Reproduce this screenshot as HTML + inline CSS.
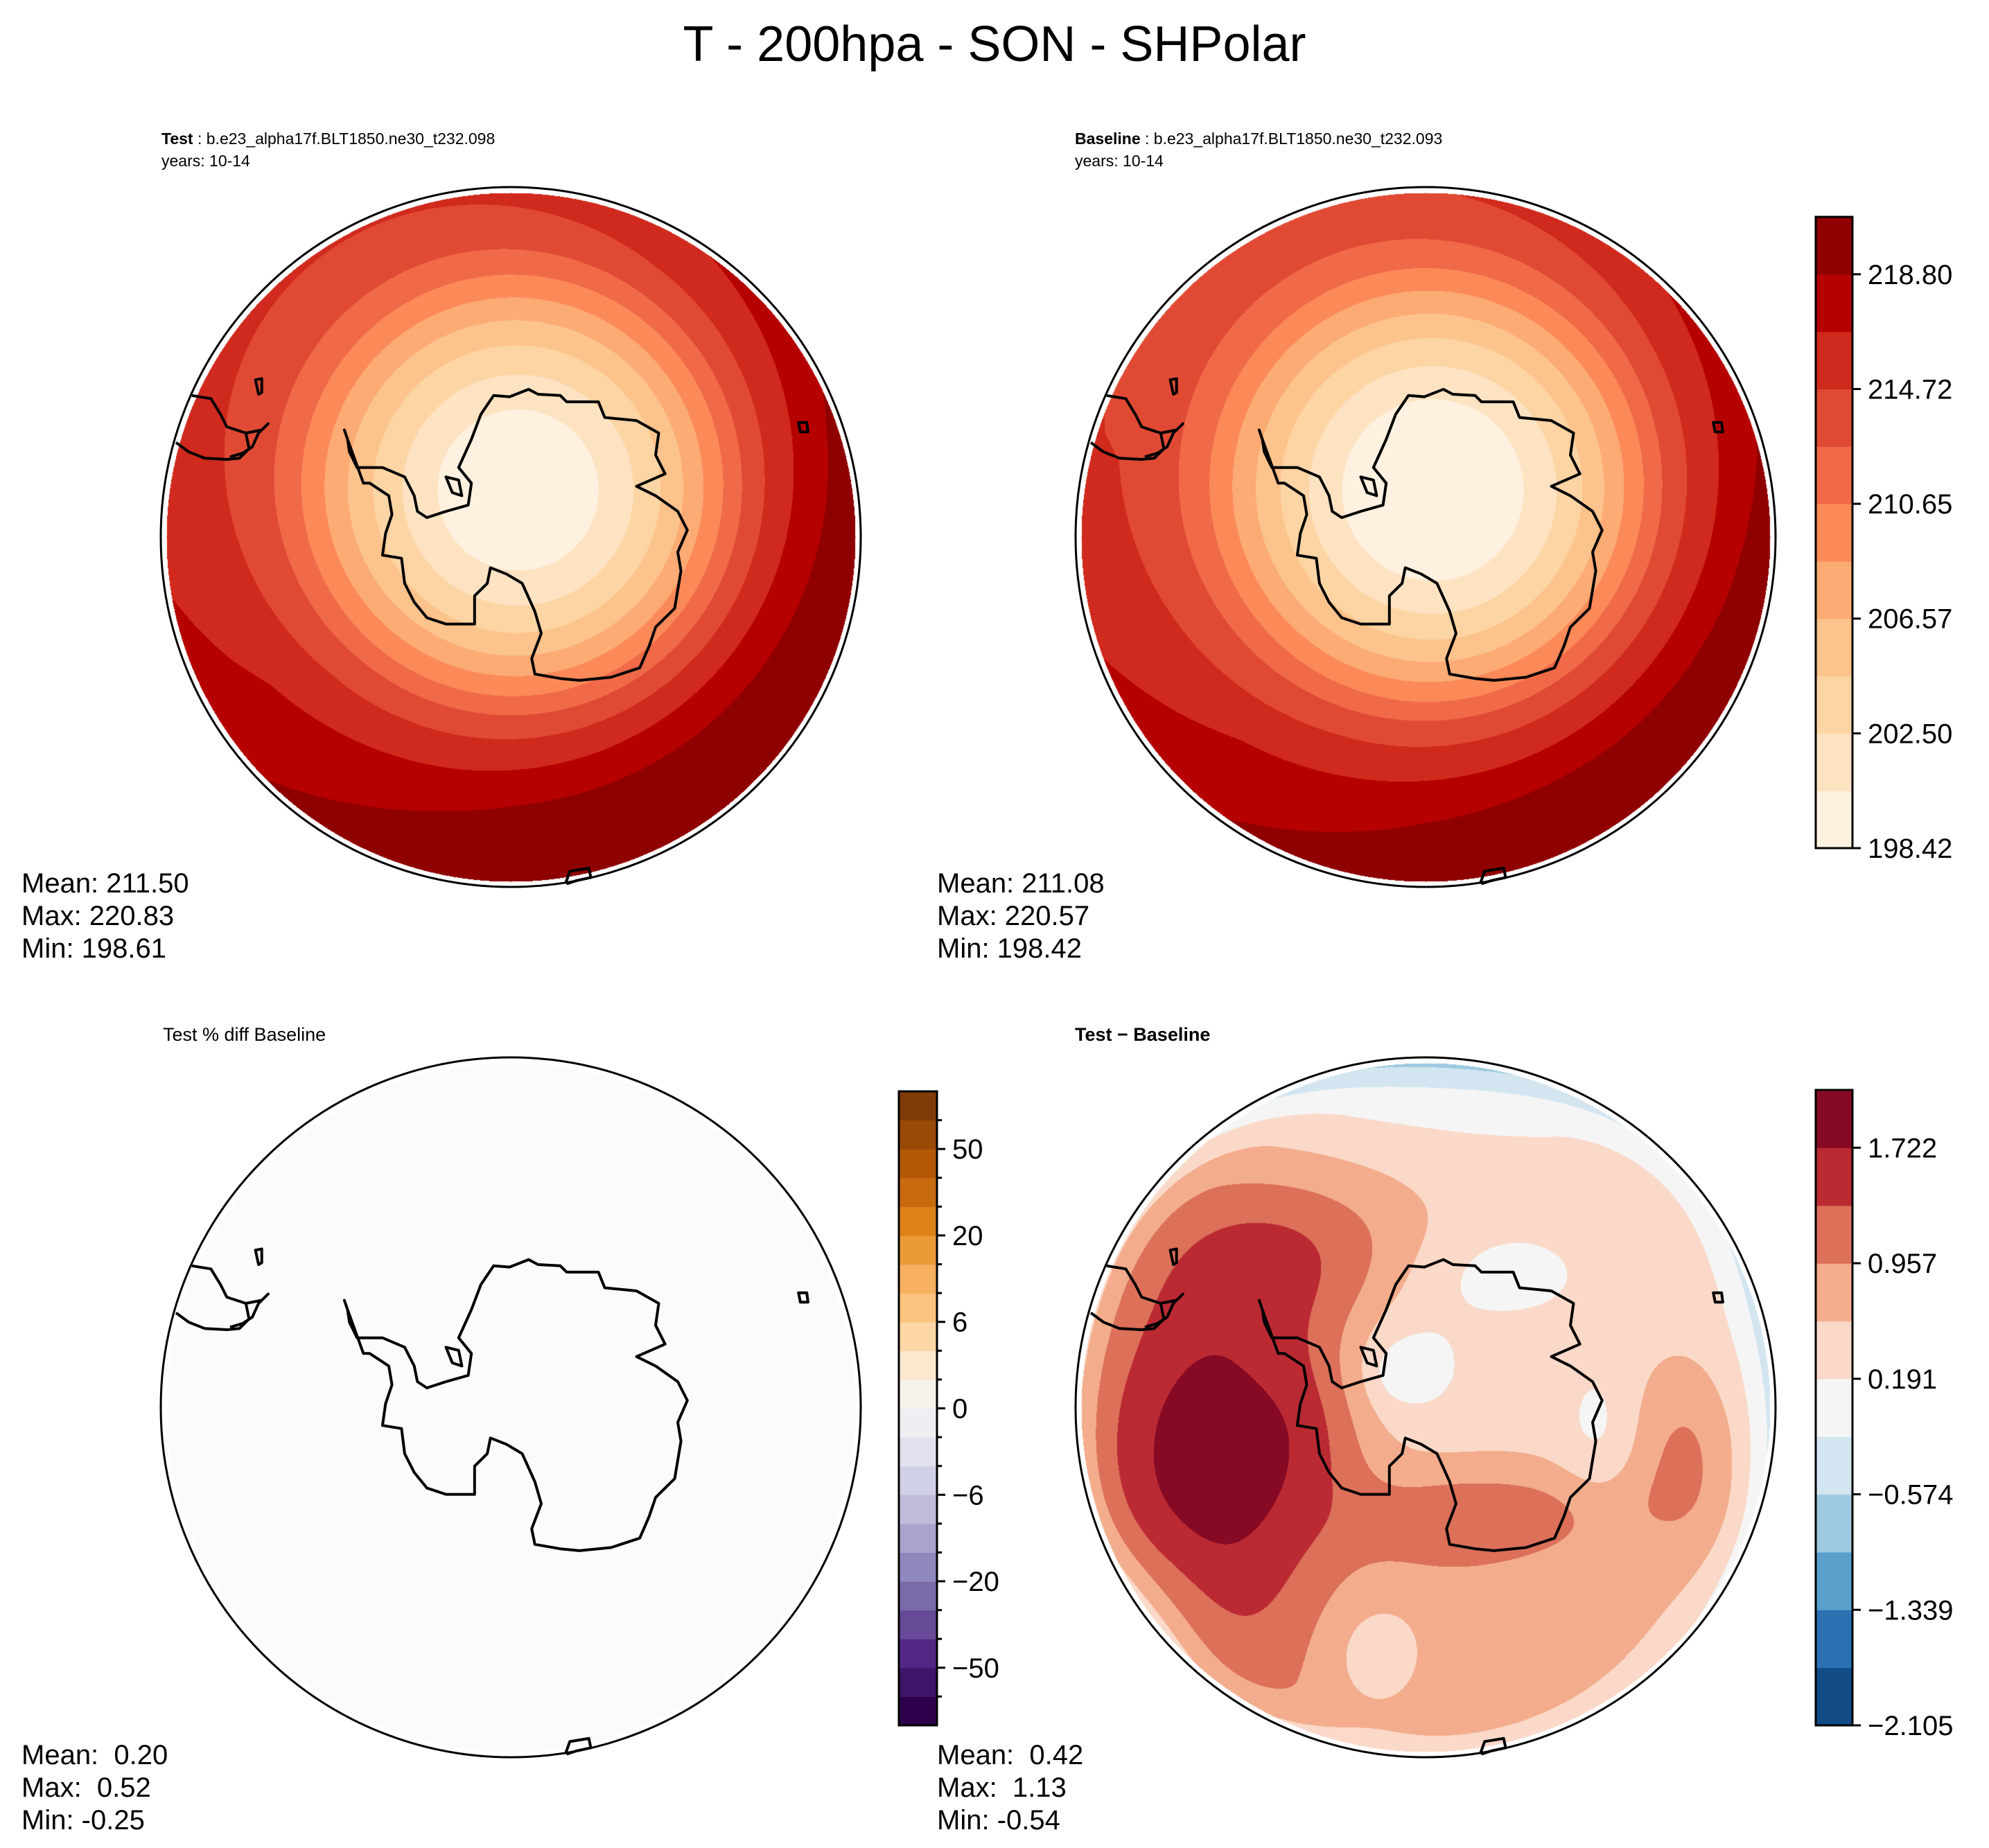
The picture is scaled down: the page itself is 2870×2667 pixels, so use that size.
<!DOCTYPE html>
<html><head><meta charset="utf-8">
<style>
html,body{margin:0;padding:0;background:#fff;}
#root{position:relative;width:2870px;height:2667px;overflow:hidden;background:#fff;font-family:"Liberation Sans","DejaVu Sans",sans-serif;}
canvas{position:absolute;}
svg{position:absolute;left:0;top:0;}
</style></head>
<body>
<div id="root">
<canvas id="c1" width="1010" height="1010" style="left:232px;top:270px"></canvas>
<canvas id="c2" width="1010" height="1010" style="left:1552px;top:270px"></canvas>
<canvas id="c3" width="1010" height="1010" style="left:232px;top:1526px"></canvas>
<canvas id="c4" width="1010" height="1010" style="left:1552px;top:1526px"></canvas>
<svg id="ov" width="2870" height="2667" xmlns="http://www.w3.org/2000/svg" font-family="Liberation Sans, DejaVu Sans, sans-serif">
<text x="1435" y="88" font-size="72" text-anchor="middle">T - 200hpa - SON - SHPolar</text>
<text x="233" y="208" font-size="23"><tspan font-weight="bold">Test</tspan> : b.e23_alpha17f.BLT1850.ne30_t232.098</text>
<text x="233" y="240" font-size="23">years: 10-14</text>
<text x="1551" y="208" font-size="23"><tspan font-weight="bold">Baseline</tspan> : b.e23_alpha17f.BLT1850.ne30_t232.093</text>
<text x="1551" y="240" font-size="23">years: 10-14</text>
<text x="235" y="1502" font-size="27">Test % diff Baseline</text>
<text x="1551" y="1502" font-size="27" font-weight="bold">Test − Baseline</text>
<g font-size="40">
<text x="31" y="1288" xml:space="preserve">Mean: 211.50</text><text x="31" y="1335" xml:space="preserve">Max: 220.83</text><text x="31" y="1382" xml:space="preserve">Min: 198.61</text></g>
<g font-size="40">
<text x="1352" y="1288" xml:space="preserve">Mean: 211.08</text><text x="1352" y="1335" xml:space="preserve">Max: 220.57</text><text x="1352" y="1382" xml:space="preserve">Min: 198.42</text></g>
<g font-size="40">
<text x="31" y="2546" xml:space="preserve">Mean:  0.20</text><text x="31" y="2593" xml:space="preserve">Max:  0.52</text><text x="31" y="2640" xml:space="preserve">Min: -0.25</text></g>
<g font-size="40">
<text x="1352" y="2546" xml:space="preserve">Mean:  0.42</text><text x="1352" y="2593" xml:space="preserve">Max:  1.13</text><text x="1352" y="2640" xml:space="preserve">Min: -0.54</text></g>
<g id="overlay"></g>
</svg>
</div>
<script>
// ---------- data ----------
const tLevels=[198.42,200.46,202.50,204.53,206.57,208.61,210.65,212.68,214.72,216.76,218.80,220.84];
const tColors=['#fef1e0','#fee3c3','#fdd5a4','#fdc38c','#fcab75','#fc8a59','#f06a48','#e04a34','#d0291d','#b50100','#8f0000'];
const tTickLabels=['198.42','202.50','206.57','210.65','214.72','218.80'];
const profD=[0,0.23,0.33,0.41,0.48,0.54,0.60,0.66,0.75,0.90,1.20];
const profT=[198.6,200.46,202.5,204.5,206.6,208.6,210.6,212.7,214.9,217.3,219.8];
const testOffset=[0.0];
const baseOffset=[-0.6];
const dLevels=[-2.105,-1.722,-1.339,-0.957,-0.574,-0.191,0.191,0.574,0.957,1.339,1.722,2.105];
const dColors=['#124c86','#2a71b2','#5a9fcb','#9dcae1','#d3e5f0','#f5f5f5','#fbd9c8','#f3ad8c','#dc7059','#bb2a33','#870a24'];
const dTickLabels=['−2.105','−1.339','−0.574','0.191','0.957','1.722'];
const dBase=[0.33];
const dEdge=[-0.45];
// blobs: u, v, sx, sy, amplitude
const dBlobU=[-0.65,-0.33,-0.35,0.25,0.75,0.05,0.00,-0.15,0.10,1.00,-0.06,-0.08,0.18,0.50,-0.80];
const dBlobV=[0.15,0.05,-0.45,0.30,0.12,0.35,0.74,0.70,-1.10,-0.10,-0.12,-0.10,-0.38,0.08,0.62];
const dBlobSX=[0.25,0.13,0.28,0.28,0.13,0.18,0.65,0.11,0.70,0.12,0.12,0.05,0.18,0.08,0.16];
const dBlobSY=[0.45,0.20,0.18,0.10,0.20,0.10,0.38,0.12,0.18,0.60,0.12,0.05,0.10,0.15,0.20];
const dBlobA=[1.55,0.45,0.75,0.55,0.65,0.25,0.45,-0.45,-0.80,-0.40,-0.45,-0.25,-0.35,-0.35,-0.60];
const pLevelsCount=[22];
const pColors=['#7f3b08','#9a4a07','#b35806','#c86a10','#dd8218','#eb9a38','#f6b05f','#fcc27f','#fdd7a5','#fbe8cf','#f7f3ec','#eeeef3','#e0e1ed','#d0d0e6','#bfbcdb','#a9a4cd','#8f88bd','#7a6aa8','#664a98','#532686','#3e1469','#2d004b'];
const pTickLabels=['50','20','6','0','−6','−20','−50'];
const pTickBounds=[2,5,8,11,14,17,20];
// coastline (reference pixel coords in a 551x559 normalized frame)
const antX=[540,545,548,560,600,635,650,655,670,700,735,740,720,740,755,775,800,830,845,880,890,940,950,1000,1035,1030,1045,1000,1030,1065,1080,1065,1070,1060,1030,1020,1005,960,910,880,840,835,850,840,820,795,770,765,745,745,700,670,650,635,630,600,605,615,610,580,570,545];
const antY=[685,700,720,745,745,760,790,815,825,815,805,770,745,700,660,630,632,620,628,630,640,640,665,670,690,725,755,775,790,815,845,880,910,970,1000,1030,1065,1080,1085,1082,1075,1050,1010,975,930,915,905,930,950,995,995,985,960,930,890,885,850,820,790,770,770,700];
const saX=[275,295,320,355,375,390,385,410,420,405,395,380,360];
const saY=[705,720,730,732,730,715,690,685,675,690,712,722,728];
const saX2=[300,330,345,355,385];
const saY2=[630,635,660,680,690];
const isl1X=[400,410,410,405,400];const isl1Y=[605,603,625,628,605];
const isl2X=[1255,1268,1270,1258,1255];const isl2Y=[673,673,688,688,673];
const isl3X=[888,895,925,928,905,890];const isl3Y=[1410,1390,1385,1400,1405,1410];
const pen1X=[700,720,725,710,700];const pen1Y=[760,765,790,785,760];

// ---------- geometry ----------
const R=505, RF=497;
const panels=[{cx:737,cy:775},{cx:2057,cy:775},{cx:737,cy:2031},{cx:2057,cy:2031}];
function interp(x,xs,ys){if(x<=xs[0])return ys[0];for(let i=1;i<xs.length;i++){if(x<=xs[i]){const t=(x-xs[i-1])/(xs[i]-xs[i-1]);return ys[i-1]+t*(ys[i]-ys[i-1]);}}const n=xs.length;return ys[n-1]+(x-xs[n-1])*(ys[n-1]-ys[n-2])/(xs[n-1]-xs[n-2]);}
function tField(u,v,off){const du=u-0.02,dv=v+0.135;const d=Math.sqrt(du*du+dv*dv);let T=interp(d,profD,profT);const w=Math.max(0,Math.min(1,(d-0.35)/0.6));T+=3*w*(0.75*du+0.6*dv);return T+off;}
function dField(u,v){let D=dBase[0];for(let i=0;i<dBlobU.length;i++){const a=(u-dBlobU[i])/dBlobSX[i],b=(v-dBlobV[i])/dBlobSY[i];D+=dBlobA[i]*Math.exp(-0.5*(a*a+b*b));}const r=Math.sqrt(u*u+v*v);const e=Math.max(0,(r-0.86)/0.14);D+=dEdge[0]*e*e;return D;}
function hex(c){return [parseInt(c.slice(1,3),16),parseInt(c.slice(3,5),16),parseInt(c.slice(5,7),16)];}
function levelIdx(val,levels){let k=0;for(let i=1;i<levels.length-1;i++){if(val>=levels[i])k=i;}return k;}
function render(id,fn,levels,colors){const cv=document.getElementById(id);const ctx=cv.getContext('2d');const img=ctx.createImageData(1010,1010);const rgb=colors?colors.map(hex):null;const data=img.data;for(let y=0;y<1010;y++){for(let x=0;x<1010;x++){const px=x-505,py=y-505;const rr=Math.sqrt(px*px+py*py);const o=(y*1010+x)*4;if(rr>RF){data[o+3]=0;continue;}const u=px/R,v=py/R;let c;if(fn){c=rgb[levelIdx(fn(u,v),levels)];}else{c=[252,251,249];}data[o]=c[0];data[o+1]=c[1];data[o+2]=c[2];data[o+3]=255;}}ctx.putImageData(img,0,0);}
render('c1',(u,v)=>tField(u,v,testOffset[0]),tLevels,tColors);
render('c2',(u,v)=>tField(u,v,baseOffset[0]),tLevels,tColors);
render('c3',null,null,null);
render('c4',dField,dLevels,dColors);

// ---------- overlay ----------
const NS='http://www.w3.org/2000/svg';
const ov=document.getElementById('overlay');
function mk(tag,attrs){const e=document.createElementNS(NS,tag);for(const k in attrs)e.setAttribute(k,attrs[k]);ov.appendChild(e);return e;}
function pathFrom(xs,ys,p,close){let s='';for(let i=0;i<xs.length;i++){const u=(xs[i]-802)/551,v=(ys[i]-856)/559;s+=(i?'L':'M')+(p.cx+u*R).toFixed(1)+' '+(p.cy+v*R).toFixed(1);}return s+(close?'Z':'');}
const names=['test','baseline','pct-diff','diff'];
panels.forEach((p,i)=>{
  const coast=[[antX,antY,true],[saX,saY,false],[saX2,saY2,false],[isl1X,isl1Y,true],[isl2X,isl2Y,true],[isl3X,isl3Y,false],[pen1X,pen1Y,true]];
  coast.forEach(c=>{const e=mk('path',{d:pathFrom(c[0],c[1],p,c[2]),fill:'none',stroke:'#000','stroke-width':4,'stroke-linejoin':'round'});
    
    });
  const b=mk('circle',{cx:p.cx,cy:p.cy,r:R,fill:'none',stroke:'#000','stroke-width':3});
  
  
});
function colorbar(x0,y0,w,h,colors,name){const n=colors.length;const bh=h/n;for(let k=0;k<n;k++){const r=mk('rect',{x:x0,y:(y0+h-(k+1)*bh).toFixed(2),width:w,height:(bh+0.6).toFixed(2),fill:colors[k]});
  
  }
  const f=mk('rect',{x:x0,y:y0,width:w,height:h,fill:'none',stroke:'#000','stroke-width':3});
  
  return bh;}
function tick(x,y,len,label,name){const l=mk('line',{x1:x,y1:y,x2:x+len,y2:y,stroke:'#000','stroke-width':3});
  
  
  if(label!==null){const t=mk('text',{x:x+len+10,y:y+14,'font-size':40});t.textContent=label;
  
  }}
// top colorbar
{const x0=2620,y0=313,w=53,h=911;const bh=colorbar(x0,y0,w,h,tColors,'temp-colorbar');tTickLabels.forEach((lab,j)=>{tick(x0+w,y0+h-2*j*bh,12,lab,'temp-colorbar');});}
// diff colorbar
{const x0=2620,y0=1573,w=53,h=917;const bh=colorbar(x0,y0,w,h,dColors,'diff-colorbar');dTickLabels.forEach((lab,j)=>{tick(x0+w,y0+h-2*j*bh,12,lab,'diff-colorbar');});}
// pct colorbar
{const x0=1297,y0=1575,w=55,h=915;const bh=colorbar(x0,y0,w,h,pColors.slice().reverse(),'pct-colorbar');
 for(let k=1;k<pLevelsCount[0];k++){const idx=pTickBounds.indexOf(k);tick(x0+w,y0+k*bh,idx>=0?12:7,idx>=0?pTickLabels[idx]:null,'pct-colorbar');}}
</script>
</body></html>
